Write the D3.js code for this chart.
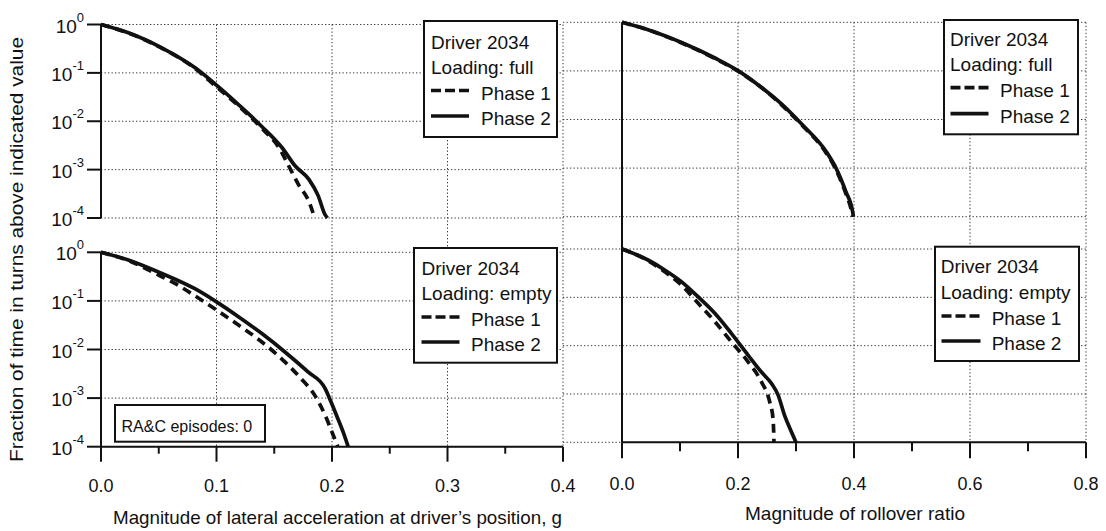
<!DOCTYPE html>
<html><head><meta charset="utf-8">
<script src="https://cdn.jsdelivr.net/npm/d3@7"></script>
<style>
html,body{margin:0;padding:0;background:#fff;}
svg{display:block;font-family:"Liberation Sans",Arial,Helvetica,sans-serif;}
</style></head>
<body>
<svg id="chart" width="1106" height="531"></svg>
<script>
// ---------- data ----------
// Lateral acceleration (g) vs fraction of time above value, loading full
const latFullPhase1 = [[0,1],[0.0237,0.668],[0.0526,0.324],[0.0815,0.123],[0.100,0.0513],[0.119,0.0209],[0.139,0.00724],[0.155,0.00263],[0.162,0.00126],[0.171,0.00049],[0.180,0.00022],[0.185,0.0001]];
const latFullPhase2 = [[0,1],[0.0237,0.673],[0.0526,0.329],[0.0815,0.127],[0.101,0.053],[0.119,0.0221],[0.139,0.0079],[0.157,0.0028],[0.168,0.0012],[0.180,0.00063],[0.188,0.00029],[0.194,0.000117],[0.196,0.0001]];
// Lateral acceleration, loading empty
const latEmptyPhase1 = [[0,1],[0.0236,0.676],[0.0524,0.316],[0.064,0.23],[0.078,0.143],[0.100,0.065],[0.119,0.0319],[0.139,0.01445],[0.159,0.00562],[0.173,0.00255],[0.185,0.00115],[0.194,0.000447],[0.201,0.000174],[0.205,0.0001]];
const latEmptyPhase2 = [[0,1],[0.0236,0.695],[0.0524,0.37],[0.0813,0.178],[0.100,0.0955],[0.119,0.0473],[0.139,0.0215],[0.159,0.009],[0.179,0.00349],[0.194,0.00158],[0.199,0.00085],[0.205,0.00038],[0.210,0.00019],[0.214,0.0001]];
// Rollover ratio, loading full
const rollFullPhase1 = [[0,1],[0.046,0.69],[0.103,0.376],[0.160,0.18],[0.200,0.099],[0.236,0.05],[0.276,0.0196],[0.310,0.0077],[0.350,0.00222],[0.368,0.00098],[0.385,0.00032],[0.396,0.000128],[0.398,0.0001]];
const rollFullPhase2 = [[0,1],[0.046,0.695],[0.1037,0.38],[0.161,0.182],[0.2006,0.1],[0.236,0.0501],[0.2767,0.02],[0.311,0.00776],[0.352,0.00219],[0.369,0.001],[0.386,0.000327],[0.3977,0.000126],[0.399,0.0001]];
// Rollover ratio, loading empty
const rollEmptyPhase1 = [[0,1],[0.0448,0.575],[0.0736,0.339],[0.1023,0.18],[0.131,0.0759],[0.160,0.0316],[0.1885,0.012],[0.217,0.00468],[0.240,0.00182],[0.2546,0.00069],[0.2603,0.000316],[0.2615,0.000166],[0.262,0.0001]];
const rollEmptyPhase2 = [[0,1],[0.0448,0.592],[0.0736,0.368],[0.1023,0.211],[0.131,0.103],[0.160,0.0468],[0.1885,0.018],[0.217,0.00646],[0.240,0.00288],[0.2575,0.00166],[0.269,0.00096],[0.280,0.00037],[0.292,0.000166],[0.300,0.0001]];

const yTicks = [1,0.1,0.01,0.001,0.0001];
const yExponents = ["0","-1","-2","-3","-4"];
const latTicksMajor = [0,0.1,0.2,0.3,0.4];
const latTicksMinor = [0.05,0.15,0.25,0.35];
const rollTicksMajor = [0,0.2,0.4,0.6,0.8];
const rollTicksMinor = [0.1,0.3,0.5,0.7];
const driverLabel = "Driver 2034";
const loadingLabels = ["Loading: full","Loading: empty"];
const phaseLabels = ["Phase 1","Phase 2"];
const xTitleLat = "Magnitude of lateral acceleration at driver\u2019s position, g";
const xTitleRoll = "Magnitude of rollover ratio";
const yTitle = "Fraction of time in turns above indicated value";
const episodeLabel = "RA&C episodes: 0";

// ---------- scales ----------
const xL = d3.scaleLinear().domain([0,0.4]).range([101,563]);
const xR = d3.scaleLinear().domain([0,0.8]).range([622,1086]);
const yTL = d3.scaleLog().domain([1e-4,1]).range([218,24.5]);
const yBL = d3.scaleLog().domain([1e-4,1]).range([446.7,252.3]);
const yTR = d3.scaleLog().domain([1e-4,1]).range([216.7,22.3]);
const yBR = d3.scaleLog().domain([1e-4,1]).range([442.3,249]);

const svg = d3.select("#chart");
const ink = "#111";
const grid = svg.append("g").attr("stroke","#333").attr("stroke-width",1).attr("stroke-dasharray","1.3,2.2");

// horizontal gridlines
[yTL,yBL].forEach(ys=>{
  grid.selectAll(null).data(yTicks).enter().append("line")
    .attr("x1",xL(0)).attr("x2",xL(0.4)).attr("y1",d=>ys(d)).attr("y2",d=>ys(d));
});
[yTR,yBR].forEach(ys=>{
  grid.selectAll(null).data(yTicks).enter().append("line")
    .attr("x1",xL(0.4)).attr("x2",xR(0.8)).attr("y1",d=>ys(d)).attr("y2",d=>ys(d));
});
// vertical gridlines
grid.selectAll(null).data([0.1,0.2,0.3,0.4]).enter().append("line")
  .attr("x1",d=>xL(d)).attr("x2",d=>xL(d)).attr("y1",yTL(1)).attr("y2",yBL(1e-4));
grid.selectAll(null).data([0.2,0.4,0.6,0.8]).enter().append("line")
  .attr("x1",d=>xR(d)).attr("x2",d=>xR(d)).attr("y1",yTR(1)).attr("y2",yBR(1e-4));

// ---------- curves ----------
function drawCurve(data,xs,ys,dashed){
  const line = d3.line().x(d=>xs(d[0])).y(d=>ys(d[1])).curve(d3.curveMonotoneX);
  svg.append("path").datum(data).attr("d",line).attr("fill","none")
    .attr("stroke",ink).attr("stroke-width",3.7)
    .attr("stroke-dasharray",dashed?"9,6":null).attr("stroke-linecap","butt").attr("stroke-linejoin","round");
}
drawCurve(latFullPhase2,xL,yTL,false);
drawCurve(latFullPhase1,xL,yTL,true);
drawCurve(latEmptyPhase2,xL,yBL,false);
drawCurve(latEmptyPhase1,xL,yBL,true);
drawCurve(rollFullPhase2,xR,yTR,false);
drawCurve(rollFullPhase1,xR,yTR,true);
drawCurve(rollEmptyPhase2,xR,yBR,false);
drawCurve(rollEmptyPhase1,xR,yBR,true);

// ---------- axes ----------
const axes = svg.append("g").attr("stroke",ink).attr("stroke-width",2).attr("fill","none");
// left y axes with ticks
[yTL,yBL].forEach(ys=>{
  axes.append("line").attr("x1",xL(0)).attr("x2",xL(0)).attr("y1",ys(1)).attr("y2",ys(1e-4));
  axes.selectAll(null).data(yTicks).enter().append("line")
    .attr("x1",xL(0)-14).attr("x2",xL(0)).attr("y1",d=>ys(d)).attr("y2",d=>ys(d));
  const lab = svg.append("g");
  yTicks.forEach((t,i)=>{
    const tx = lab.append("text").attr("x",84).attr("y",ys(t)+8).attr("text-anchor","end")
      .attr("font-size",19).attr("fill",ink);
    tx.append("tspan").text("10");
    tx.append("tspan").attr("dy",-11).attr("font-size",13).text(yExponents[i]);
  });
});
// right panels' vertical axis (no ticks), continuous through both panels
axes.append("line").attr("x1",xR(0)).attr("x2",xR(0)).attr("y1",yTR(1)).attr("y2",yBR(1e-4));

// bottom x axes
function xAxis(xs,ys,major,minor,majorLen,minorLen,labelY){
  const y0 = ys(1e-4);
  axes.append("line").attr("x1",xs(major[0])).attr("x2",xs(major[major.length-1])).attr("y1",y0).attr("y2",y0);
  axes.selectAll(null).data(major).enter().append("line")
    .attr("x1",d=>xs(d)).attr("x2",d=>xs(d)).attr("y1",y0).attr("y2",y0+majorLen);
  axes.selectAll(null).data(minor).enter().append("line")
    .attr("x1",d=>xs(d)).attr("x2",d=>xs(d)).attr("y1",y0).attr("y2",y0+minorLen);
  svg.append("g").selectAll("text").data(major).enter().append("text")
    .attr("x",d=>xs(d)).attr("y",labelY).attr("text-anchor","middle")
    .attr("font-size",18).attr("fill",ink).text(d=>d3.format(".1f")(d));
}
xAxis(xL,yBL,latTicksMajor,latTicksMinor,15,7,492);
xAxis(xR,yBR,rollTicksMajor,rollTicksMinor,16,9,490);

// titles
svg.append("text").attr("x",337.5).attr("y",524).attr("text-anchor","middle")
  .attr("font-size",19).attr("fill",ink).attr("textLength",449).attr("lengthAdjust","spacingAndGlyphs").text(xTitleLat);
svg.append("text").attr("x",855).attr("y",520).attr("text-anchor","middle")
  .attr("font-size",19).attr("fill",ink).attr("textLength",220).attr("lengthAdjust","spacingAndGlyphs").text(xTitleRoll);
svg.append("text").attr("transform","translate(23,249.5) rotate(-90)").attr("text-anchor","middle")
  .attr("font-size",19).attr("fill",ink).attr("textLength",425).attr("lengthAdjust","spacingAndGlyphs").text(yTitle);

// ---------- legends ----------
function legend(box,textX,sampleX,phaseX,baselines,loading){
  const g = svg.append("g");
  g.append("rect").attr("x",box[0]).attr("y",box[1]).attr("width",box[2]-box[0]).attr("height",box[3]-box[1])
    .attr("fill","#fff").attr("stroke",ink).attr("stroke-width",2);
  g.append("text").attr("x",textX).attr("y",baselines[0]).attr("font-size",19).attr("fill",ink).text(driverLabel);
  g.append("text").attr("x",textX).attr("y",baselines[1]).attr("font-size",19).attr("fill",ink).text(loading);
  phaseLabels.forEach((p,i)=>{
    const by = baselines[2+i];
    g.append("line").attr("x1",sampleX[0]).attr("x2",sampleX[1]).attr("y1",by-9).attr("y2",by-9)
      .attr("stroke",ink).attr("stroke-width",3.7).attr("stroke-dasharray",i===0?"10,4":null);
    g.append("text").attr("x",phaseX).attr("y",by).attr("font-size",19).attr("fill",ink).text(p);
  });
}
legend([424,21,557,137],431,[431,469],481,[49,74,99.5,125],loadingLabels[0]);
legend([414,248,557,362.7],421.5,[421.5,459.5],471,[275,300,326,351],loadingLabels[1]);
legend([944,20,1078,134.3],950,[950.5,988.5],1000,[45.7,71,96.7,122.7],loadingLabels[0]);
legend([935,246.7,1079,361],940.7,[941.5,980.5],991.7,[272.7,298.5,325,350],loadingLabels[1]);

// episodes box
svg.append("rect").attr("x",115).attr("y",405).attr("width",150).attr("height",36.7)
  .attr("fill","#fff").attr("stroke",ink).attr("stroke-width",2);
svg.append("text").attr("x",121.5).attr("y",431.5).attr("font-size",16).attr("fill",ink).text(episodeLabel);
</script>
</body></html>
